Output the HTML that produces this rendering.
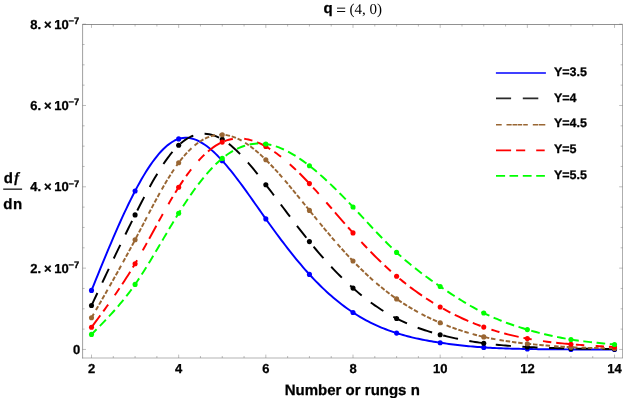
<!DOCTYPE html>
<html><head><meta charset="utf-8"><title>plot</title>
<style>html,body{margin:0;padding:0;background:#fff;overflow:hidden}body{width:623px;height:398px;position:relative;font-family:"Liberation Sans",sans-serif}</style></head>
<body>
<svg width="623" height="398" viewBox="0 0 623 398" text-rendering="geometricPrecision" style="position:absolute;left:0;top:0;will-change:transform">
<rect width="623" height="398" fill="#fff"/>
<g stroke="#6e6e6e" stroke-width="0.8" fill="none">
<path d="M82.6,358.4V24.5" stroke-width="0.66"/><path d="M82.27,24.5H622.6" stroke-width="0.76"/><path d="M82.19999999999999,358.0H622.6" stroke-width="0.52"/><path d="M622.6,24.5V358.26" stroke-width="0.62"/>
<path d="M91.50,358.0v-3.4M91.50,24.5v3.4M113.29,358.0v-2.0M113.29,24.5v2.0M135.09,358.0v-2.0M135.09,24.5v2.0M156.88,358.0v-2.0M156.88,24.5v2.0M178.67,358.0v-3.4M178.67,24.5v3.4M200.46,358.0v-2.0M200.46,24.5v2.0M222.25,358.0v-2.0M222.25,24.5v2.0M244.05,358.0v-2.0M244.05,24.5v2.0M265.84,358.0v-3.4M265.84,24.5v3.4M287.63,358.0v-2.0M287.63,24.5v2.0M309.43,358.0v-2.0M309.43,24.5v2.0M331.22,358.0v-2.0M331.22,24.5v2.0M353.01,358.0v-3.4M353.01,24.5v3.4M374.80,358.0v-2.0M374.80,24.5v2.0M396.60,358.0v-2.0M396.60,24.5v2.0M418.39,358.0v-2.0M418.39,24.5v2.0M440.18,358.0v-3.4M440.18,24.5v3.4M461.97,358.0v-2.0M461.97,24.5v2.0M483.76,358.0v-2.0M483.76,24.5v2.0M505.56,358.0v-2.0M505.56,24.5v2.0M527.35,358.0v-3.4M527.35,24.5v3.4M549.14,358.0v-2.0M549.14,24.5v2.0M570.93,358.0v-2.0M570.93,24.5v2.0M592.73,358.0v-2.0M592.73,24.5v2.0M614.52,358.0v-3.4M614.52,24.5v3.4M82.6,349.45h3.4M622.6,349.45h-3.4M82.6,329.12h2.0M622.6,329.12h-2.0M82.6,308.79h2.0M622.6,308.79h-2.0M82.6,288.46h2.0M622.6,288.46h-2.0M82.6,268.13h3.4M622.6,268.13h-3.4M82.6,247.80h2.0M622.6,247.80h-2.0M82.6,227.47h2.0M622.6,227.47h-2.0M82.6,207.14h2.0M622.6,207.14h-2.0M82.6,186.81h3.4M622.6,186.81h-3.4M82.6,166.48h2.0M622.6,166.48h-2.0M82.6,146.15h2.0M622.6,146.15h-2.0M82.6,125.82h2.0M622.6,125.82h-2.0M82.6,105.49h3.4M622.6,105.49h-3.4M82.6,85.16h2.0M622.6,85.16h-2.0M82.6,64.83h2.0M622.6,64.83h-2.0M82.6,44.50h2.0M622.6,44.50h-2.0M82.6,24.17h3.4M622.6,24.17h-3.4" stroke-width="0.45"/>
</g>
<polyline points="91.50,290.40 93.68,285.03 95.86,279.66 98.04,274.31 100.22,268.97 102.40,263.66 104.58,258.38 106.75,253.13 108.93,247.93 111.11,242.78 113.29,237.68 115.47,232.64 117.65,227.66 119.83,222.76 122.01,217.94 124.19,213.20 126.37,208.56 128.55,204.01 130.73,199.56 132.91,195.22 135.09,191.00 137.26,186.90 139.44,182.92 141.62,179.08 143.80,175.37 145.98,171.80 148.16,168.38 150.34,165.12 152.52,162.01 154.70,159.06 156.88,156.28 159.06,153.68 161.24,151.25 163.42,149.01 165.59,146.96 167.77,145.10 169.95,143.44 172.13,141.98 174.31,140.74 176.49,139.71 178.67,138.90 180.85,138.31 183.03,137.95 185.21,137.79 187.39,137.84 189.57,138.09 191.75,138.52 193.92,139.14 196.10,139.94 198.28,140.91 200.46,142.04 202.64,143.32 204.82,144.75 207.00,146.33 209.18,148.03 211.36,149.87 213.54,151.82 215.72,153.89 217.90,156.06 220.08,158.34 222.25,160.70 224.43,163.15 226.61,165.68 228.79,168.28 230.97,170.96 233.15,173.69 235.33,176.49 237.51,179.34 239.69,182.24 241.87,185.18 244.05,188.16 246.23,191.17 248.41,194.21 250.59,197.27 252.76,200.35 254.94,203.44 257.12,206.54 259.30,209.64 261.48,212.74 263.66,215.83 265.84,218.90 268.02,221.96 270.20,224.99 272.38,228.00 274.56,230.99 276.74,233.96 278.92,236.89 281.09,239.80 283.27,242.68 285.45,245.53 287.63,248.35 289.81,251.13 291.99,253.88 294.17,256.59 296.35,259.26 298.53,261.89 300.71,264.48 302.89,267.03 305.07,269.53 307.25,271.99 309.43,274.40 311.60,276.76 313.78,279.07 315.96,281.34 318.14,283.55 320.32,285.72 322.50,287.84 324.68,289.91 326.86,291.93 329.04,293.91 331.22,295.84 333.40,297.71 335.58,299.55 337.76,301.33 339.93,303.07 342.11,304.76 344.29,306.40 346.47,308.00 348.65,309.54 350.83,311.05 353.01,312.50 355.19,313.91 357.37,315.27 359.55,316.59 361.73,317.86 363.91,319.10 366.09,320.29 368.26,321.43 370.44,322.54 372.62,323.61 374.80,324.65 376.98,325.64 379.16,326.60 381.34,327.53 383.52,328.42 385.70,329.27 387.88,330.10 390.06,330.89 392.24,331.66 394.42,332.39 396.60,333.10 398.77,333.78 400.95,334.43 403.13,335.06 405.31,335.66 407.49,336.24 409.67,336.80 411.85,337.33 414.03,337.85 416.21,338.34 418.39,338.82 420.57,339.27 422.75,339.71 424.93,340.13 427.10,340.54 429.28,340.93 431.46,341.31 433.64,341.67 435.82,342.03 438.00,342.37 440.18,342.70 442.36,343.02 444.54,343.33 446.72,343.64 448.90,343.93 451.08,344.22 453.26,344.49 455.43,344.76 457.61,345.02 459.79,345.26 461.97,345.50 464.15,345.73 466.33,345.95 468.51,346.17 470.69,346.37 472.87,346.56 475.05,346.75 477.23,346.92 479.41,347.09 481.59,347.25 483.76,347.40 485.94,347.54 488.12,347.67 490.30,347.80 492.48,347.92 494.66,348.03 496.84,348.13 499.02,348.22 501.20,348.31 503.38,348.40 505.56,348.47 507.74,348.54 509.92,348.61 512.10,348.67 514.27,348.73 516.45,348.78 518.63,348.83 520.81,348.88 522.99,348.92 525.17,348.96 527.35,349.00 529.53,349.04 531.71,349.07 533.89,349.10 536.07,349.13 538.25,349.16 540.43,349.18 542.60,349.21 544.78,349.23 546.96,349.25 549.14,349.27 551.32,349.29 553.50,349.30 555.68,349.32 557.86,349.33 560.04,349.35 562.22,349.36 564.40,349.37 566.58,349.38 568.76,349.39 570.93,349.40 573.11,349.41 575.29,349.42 577.47,349.42 579.65,349.43 581.83,349.44 584.01,349.44 586.19,349.45 588.37,349.45 590.55,349.46 592.73,349.46 594.91,349.47 597.09,349.47 599.27,349.48 601.44,349.48 603.62,349.48 605.80,349.49 607.98,349.49 610.16,349.49 612.34,349.50 614.52,349.50" fill="none" stroke="#0000ff" stroke-width="1.95" stroke-linejoin="round"/>
<circle cx="91.50" cy="290.40" r="2.55" fill="#0000ff"/>
<circle cx="135.09" cy="191.00" r="2.55" fill="#0000ff"/>
<circle cx="178.67" cy="138.90" r="2.55" fill="#0000ff"/>
<circle cx="222.25" cy="160.70" r="2.55" fill="#0000ff"/>
<circle cx="265.84" cy="218.90" r="2.55" fill="#0000ff"/>
<circle cx="309.43" cy="274.40" r="2.55" fill="#0000ff"/>
<circle cx="353.01" cy="312.50" r="2.55" fill="#0000ff"/>
<circle cx="396.60" cy="333.10" r="2.55" fill="#0000ff"/>
<circle cx="440.18" cy="342.70" r="2.55" fill="#0000ff"/>
<circle cx="483.76" cy="347.40" r="2.55" fill="#0000ff"/>
<circle cx="527.35" cy="349.00" r="2.55" fill="#0000ff"/>
<circle cx="570.93" cy="349.40" r="2.55" fill="#0000ff"/>
<circle cx="614.52" cy="349.50" r="2.55" fill="#0000ff"/>
<polyline points="91.50,305.50 93.68,300.87 95.86,296.25 98.04,291.63 100.22,287.01 102.40,282.40 104.58,277.79 106.75,273.20 108.93,268.61 111.11,264.04 113.29,259.48 115.47,254.93 117.65,250.40 119.83,245.89 122.01,241.39 124.19,236.92 126.37,232.47 128.55,228.04 130.73,223.63 132.91,219.25 135.09,214.90 137.26,210.58 139.44,206.29 141.62,202.06 143.80,197.87 145.98,193.75 148.16,189.70 150.34,185.73 152.52,181.85 154.70,178.06 156.88,174.38 159.06,170.81 161.24,167.37 163.42,164.05 165.59,160.87 167.77,157.84 169.95,154.97 172.13,152.26 174.31,149.72 176.49,147.37 178.67,145.20 180.85,143.23 183.03,141.45 185.21,139.87 187.39,138.48 189.57,137.27 191.75,136.24 193.92,135.39 196.10,134.73 198.28,134.23 200.46,133.91 202.64,133.75 204.82,133.76 207.00,133.93 209.18,134.26 211.36,134.74 213.54,135.38 215.72,136.17 217.90,137.10 220.08,138.18 222.25,139.40 224.43,140.76 226.61,142.25 228.79,143.86 230.97,145.59 233.15,147.44 235.33,149.40 237.51,151.45 239.69,153.61 241.87,155.85 244.05,158.17 246.23,160.58 248.41,163.05 250.59,165.59 252.76,168.19 254.94,170.84 257.12,173.55 259.30,176.29 261.48,179.06 263.66,181.87 265.84,184.70 268.02,187.55 270.20,190.41 272.38,193.28 274.56,196.17 276.74,199.06 278.92,201.95 281.09,204.85 283.27,207.75 285.45,210.65 287.63,213.54 289.81,216.42 291.99,219.29 294.17,222.15 296.35,224.99 298.53,227.82 300.71,230.63 302.89,233.41 305.07,236.17 307.25,238.90 309.43,241.60 311.60,244.27 313.78,246.90 315.96,249.50 318.14,252.07 320.32,254.60 322.50,257.10 324.68,259.56 326.86,261.99 329.04,264.38 331.22,266.73 333.40,269.05 335.58,271.32 337.76,273.56 339.93,275.76 342.11,277.92 344.29,280.04 346.47,282.11 348.65,284.15 350.83,286.15 353.01,288.10 355.19,290.01 357.37,291.88 359.55,293.71 361.73,295.49 363.91,297.23 366.09,298.94 368.26,300.59 370.44,302.21 372.62,303.79 374.80,305.33 376.98,306.82 379.16,308.28 381.34,309.70 383.52,311.07 385.70,312.41 387.88,313.71 390.06,314.96 392.24,316.18 394.42,317.36 396.60,318.50 398.77,319.60 400.95,320.67 403.13,321.69 405.31,322.69 407.49,323.65 409.67,324.57 411.85,325.47 414.03,326.33 416.21,327.16 418.39,327.97 420.57,328.75 422.75,329.50 424.93,330.22 427.10,330.93 429.28,331.61 431.46,332.26 433.64,332.90 435.82,333.52 438.00,334.12 440.18,334.70 442.36,335.27 444.54,335.82 446.72,336.35 448.90,336.87 451.08,337.37 453.26,337.86 455.43,338.33 457.61,338.79 459.79,339.23 461.97,339.66 464.15,340.08 466.33,340.48 468.51,340.86 470.69,341.24 472.87,341.60 475.05,341.94 477.23,342.28 479.41,342.60 481.59,342.90 483.76,343.20 485.94,343.48 488.12,343.75 490.30,344.01 492.48,344.26 494.66,344.50 496.84,344.72 499.02,344.94 501.20,345.15 503.38,345.35 505.56,345.53 507.74,345.71 509.92,345.88 512.10,346.05 514.27,346.20 516.45,346.35 518.63,346.49 520.81,346.63 522.99,346.76 525.17,346.88 527.35,347.00 529.53,347.11 531.71,347.22 533.89,347.32 536.07,347.42 538.25,347.52 540.43,347.61 542.60,347.69 544.78,347.78 546.96,347.85 549.14,347.93 551.32,348.00 553.50,348.07 555.68,348.13 557.86,348.19 560.04,348.25 562.22,348.30 564.40,348.36 566.58,348.41 568.76,348.45 570.93,348.50 573.11,348.54 575.29,348.58 577.47,348.62 579.65,348.66 581.83,348.70 584.01,348.73 586.19,348.76 588.37,348.79 590.55,348.82 592.73,348.85 594.91,348.88 597.09,348.91 599.27,348.93 601.44,348.96 603.62,348.98 605.80,349.01 607.98,349.03 610.16,349.05 612.34,349.08 614.52,349.10" fill="none" stroke="#000000" stroke-width="1.95" stroke-dasharray="15.2 11.5" stroke-dashoffset="1.4" stroke-linejoin="round"/>
<circle cx="91.50" cy="305.50" r="2.55" fill="#000000"/>
<circle cx="135.09" cy="214.90" r="2.55" fill="#000000"/>
<circle cx="178.67" cy="145.20" r="2.55" fill="#000000"/>
<circle cx="222.25" cy="139.40" r="2.55" fill="#000000"/>
<circle cx="265.84" cy="184.70" r="2.55" fill="#000000"/>
<circle cx="309.43" cy="241.60" r="2.55" fill="#000000"/>
<circle cx="353.01" cy="288.10" r="2.55" fill="#000000"/>
<circle cx="396.60" cy="318.50" r="2.55" fill="#000000"/>
<circle cx="440.18" cy="334.70" r="2.55" fill="#000000"/>
<circle cx="483.76" cy="343.20" r="2.55" fill="#000000"/>
<circle cx="527.35" cy="347.00" r="2.55" fill="#000000"/>
<circle cx="570.93" cy="348.50" r="2.55" fill="#000000"/>
<circle cx="614.52" cy="349.10" r="2.55" fill="#000000"/>
<polyline points="91.50,317.80 93.68,314.02 95.86,310.23 98.04,306.44 100.22,302.65 102.40,298.85 104.58,295.04 106.75,291.22 108.93,287.39 111.11,283.54 113.29,279.68 115.47,275.80 117.65,271.90 119.83,267.98 122.01,264.04 124.19,260.07 126.37,256.08 128.55,252.05 130.73,248.00 132.91,243.92 135.09,239.80 137.26,235.65 139.44,231.47 141.62,227.28 143.80,223.08 145.98,218.89 148.16,214.70 150.34,210.54 152.52,206.41 154.70,202.32 156.88,198.28 159.06,194.31 161.24,190.40 163.42,186.57 165.59,182.83 167.77,179.19 169.95,175.66 172.13,172.24 174.31,168.96 176.49,165.80 178.67,162.80 180.85,159.95 183.03,157.25 185.21,154.71 187.39,152.33 189.57,150.10 191.75,148.02 193.92,146.09 196.10,144.31 198.28,142.69 200.46,141.22 202.64,139.90 204.82,138.73 207.00,137.71 209.18,136.83 211.36,136.11 213.54,135.53 215.72,135.11 217.90,134.82 220.08,134.69 222.25,134.70 224.43,134.86 226.61,135.15 228.79,135.59 230.97,136.15 233.15,136.85 235.33,137.66 237.51,138.60 239.69,139.66 241.87,140.82 244.05,142.10 246.23,143.47 248.41,144.95 250.59,146.52 252.76,148.18 254.94,149.92 257.12,151.75 259.30,153.66 261.48,155.64 263.66,157.69 265.84,159.80 268.02,161.97 270.20,164.21 272.38,166.49 274.56,168.83 276.74,171.21 278.92,173.64 281.09,176.11 283.27,178.62 285.45,181.16 287.63,183.73 289.81,186.33 291.99,188.95 294.17,191.60 296.35,194.26 298.53,196.93 300.71,199.62 302.89,202.31 305.07,205.01 307.25,207.71 309.43,210.40 311.60,213.09 313.78,215.77 315.96,218.44 318.14,221.11 320.32,223.75 322.50,226.39 324.68,229.01 326.86,231.62 329.04,234.20 331.22,236.77 333.40,239.31 335.58,241.83 337.76,244.33 339.93,246.80 342.11,249.25 344.29,251.66 346.47,254.05 348.65,256.40 350.83,258.72 353.01,261.00 355.19,263.25 357.37,265.46 359.55,267.63 361.73,269.77 363.91,271.87 366.09,273.93 368.26,275.96 370.44,277.95 372.62,279.90 374.80,281.81 376.98,283.69 379.16,285.53 381.34,287.33 383.52,289.10 385.70,290.82 387.88,292.51 390.06,294.17 392.24,295.78 394.42,297.36 396.60,298.90 398.77,300.40 400.95,301.87 403.13,303.30 405.31,304.69 407.49,306.05 409.67,307.37 411.85,308.66 414.03,309.92 416.21,311.15 418.39,312.35 420.57,313.52 422.75,314.65 424.93,315.76 427.10,316.85 429.28,317.90 431.46,318.93 433.64,319.93 435.82,320.91 438.00,321.87 440.18,322.80 442.36,323.71 444.54,324.60 446.72,325.46 448.90,326.31 451.08,327.13 453.26,327.93 455.43,328.71 457.61,329.47 459.79,330.20 461.97,330.92 464.15,331.61 466.33,332.28 468.51,332.93 470.69,333.56 472.87,334.17 475.05,334.76 477.23,335.32 479.41,335.87 481.59,336.40 483.76,336.90 485.94,337.38 488.12,337.85 490.30,338.30 492.48,338.72 494.66,339.13 496.84,339.53 499.02,339.90 501.20,340.27 503.38,340.61 505.56,340.95 507.74,341.27 509.92,341.58 512.10,341.88 514.27,342.16 516.45,342.44 518.63,342.71 520.81,342.97 522.99,343.22 525.17,343.46 527.35,343.70 529.53,343.93 531.71,344.16 533.89,344.38 536.07,344.60 538.25,344.81 540.43,345.01 542.60,345.21 544.78,345.40 546.96,345.59 549.14,345.77 551.32,345.94 553.50,346.11 555.68,346.27 557.86,346.42 560.04,346.57 562.22,346.71 564.40,346.84 566.58,346.97 568.76,347.09 570.93,347.20 573.11,347.30 575.29,347.40 577.47,347.49 579.65,347.58 581.83,347.66 584.01,347.73 586.19,347.80 588.37,347.87 590.55,347.93 592.73,347.98 594.91,348.03 597.09,348.08 599.27,348.13 601.44,348.17 603.62,348.21 605.80,348.25 607.98,348.29 610.16,348.33 612.34,348.36 614.52,348.40" fill="none" stroke="#996633" stroke-width="1.95" stroke-dasharray="4.5 1.8 4.5 1.8 4.5 1.8 4.5 4.1" stroke-dashoffset="18.6" stroke-linejoin="round"/>
<circle cx="91.50" cy="317.80" r="2.55" fill="#996633"/>
<circle cx="135.09" cy="239.80" r="2.55" fill="#996633"/>
<circle cx="178.67" cy="162.80" r="2.55" fill="#996633"/>
<circle cx="222.25" cy="134.70" r="2.55" fill="#996633"/>
<circle cx="265.84" cy="159.80" r="2.55" fill="#996633"/>
<circle cx="309.43" cy="210.40" r="2.55" fill="#996633"/>
<circle cx="353.01" cy="261.00" r="2.55" fill="#996633"/>
<circle cx="396.60" cy="298.90" r="2.55" fill="#996633"/>
<circle cx="440.18" cy="322.80" r="2.55" fill="#996633"/>
<circle cx="483.76" cy="336.90" r="2.55" fill="#996633"/>
<circle cx="527.35" cy="343.70" r="2.55" fill="#996633"/>
<circle cx="570.93" cy="347.20" r="2.55" fill="#996633"/>
<circle cx="614.52" cy="348.40" r="2.55" fill="#996633"/>
<polyline points="91.50,327.30 93.68,324.36 95.86,321.43 98.04,318.48 100.22,315.52 102.40,312.55 104.58,309.56 106.75,306.55 108.93,303.51 111.11,300.44 113.29,297.34 115.47,294.20 117.65,291.03 119.83,287.80 122.01,284.53 124.19,281.21 126.37,277.83 128.55,274.40 130.73,270.90 132.91,267.33 135.09,263.70 137.26,259.99 139.44,256.22 141.62,252.40 143.80,248.52 145.98,244.61 148.16,240.66 150.34,236.70 152.52,232.72 154.70,228.74 156.88,224.76 159.06,220.80 161.24,216.86 163.42,212.95 165.59,209.09 167.77,205.27 169.95,201.50 172.13,197.81 174.31,194.18 176.49,190.65 178.67,187.20 180.85,183.85 183.03,180.61 185.21,177.47 187.39,174.44 189.57,171.52 191.75,168.71 193.92,166.01 196.10,163.43 198.28,160.96 200.46,158.61 202.64,156.39 204.82,154.28 207.00,152.30 209.18,150.45 211.36,148.72 213.54,147.13 215.72,145.67 217.90,144.34 220.08,143.15 222.25,142.10 224.43,141.19 226.61,140.41 228.79,139.77 230.97,139.26 233.15,138.88 235.33,138.63 237.51,138.49 239.69,138.48 241.87,138.58 244.05,138.80 246.23,139.12 248.41,139.55 250.59,140.09 252.76,140.73 254.94,141.46 257.12,142.29 259.30,143.21 261.48,144.22 263.66,145.32 265.84,146.50 268.02,147.76 270.20,149.10 272.38,150.51 274.56,151.99 276.74,153.54 278.92,155.16 281.09,156.85 283.27,158.60 285.45,160.41 287.63,162.28 289.81,164.20 291.99,166.18 294.17,168.20 296.35,170.28 298.53,172.40 300.71,174.56 302.89,176.77 305.07,179.01 307.25,181.29 309.43,183.60 311.60,185.94 313.78,188.32 315.96,190.71 318.14,193.14 320.32,195.58 322.50,198.04 324.68,200.52 326.86,203.00 329.04,205.50 331.22,208.01 333.40,210.52 335.58,213.03 337.76,215.55 339.93,218.05 342.11,220.56 344.29,223.05 346.47,225.54 348.65,228.01 350.83,230.46 353.01,232.90 355.19,235.31 357.37,237.71 359.55,240.08 361.73,242.42 363.91,244.74 366.09,247.04 368.26,249.31 370.44,251.56 372.62,253.77 374.80,255.96 376.98,258.13 379.16,260.26 381.34,262.36 383.52,264.44 385.70,266.48 387.88,268.49 390.06,270.47 392.24,272.41 394.42,274.32 396.60,276.20 398.77,278.04 400.95,279.85 403.13,281.62 405.31,283.36 407.49,285.07 409.67,286.74 411.85,288.39 414.03,290.00 416.21,291.57 418.39,293.12 420.57,294.64 422.75,296.13 424.93,297.58 427.10,299.01 429.28,300.41 431.46,301.78 433.64,303.13 435.82,304.45 438.00,305.74 440.18,307.00 442.36,308.24 444.54,309.45 446.72,310.64 448.90,311.80 451.08,312.94 453.26,314.05 455.43,315.13 457.61,316.20 459.79,317.23 461.97,318.25 464.15,319.24 466.33,320.20 468.51,321.15 470.69,322.07 472.87,322.96 475.05,323.83 477.23,324.68 479.41,325.51 481.59,326.32 483.76,327.10 485.94,327.86 488.12,328.60 490.30,329.32 492.48,330.01 494.66,330.69 496.84,331.35 499.02,331.98 501.20,332.60 503.38,333.20 505.56,333.77 507.74,334.33 509.92,334.88 512.10,335.40 514.27,335.91 516.45,336.40 518.63,336.87 520.81,337.33 522.99,337.77 525.17,338.19 527.35,338.60 529.53,338.99 531.71,339.37 533.89,339.74 536.07,340.09 538.25,340.43 540.43,340.76 542.60,341.07 544.78,341.37 546.96,341.66 549.14,341.94 551.32,342.21 553.50,342.47 555.68,342.71 557.86,342.95 560.04,343.18 562.22,343.40 564.40,343.61 566.58,343.82 568.76,344.01 570.93,344.20 573.11,344.38 575.29,344.56 577.47,344.73 579.65,344.89 581.83,345.05 584.01,345.20 586.19,345.35 588.37,345.49 590.55,345.63 592.73,345.77 594.91,345.90 597.09,346.03 599.27,346.16 601.44,346.28 603.62,346.41 605.80,346.53 607.98,346.65 610.16,346.76 612.34,346.88 614.52,347.00" fill="none" stroke="#ff0000" stroke-width="1.95" stroke-dasharray="14.9 4.9 8.4 11.4 8.4 4.9" stroke-dashoffset="0" stroke-linejoin="round"/>
<circle cx="91.50" cy="327.30" r="2.55" fill="#ff0000"/>
<circle cx="135.09" cy="263.70" r="2.55" fill="#ff0000"/>
<circle cx="178.67" cy="187.20" r="2.55" fill="#ff0000"/>
<circle cx="222.25" cy="142.10" r="2.55" fill="#ff0000"/>
<circle cx="265.84" cy="146.50" r="2.55" fill="#ff0000"/>
<circle cx="309.43" cy="183.60" r="2.55" fill="#ff0000"/>
<circle cx="353.01" cy="232.90" r="2.55" fill="#ff0000"/>
<circle cx="396.60" cy="276.20" r="2.55" fill="#ff0000"/>
<circle cx="440.18" cy="307.00" r="2.55" fill="#ff0000"/>
<circle cx="483.76" cy="327.10" r="2.55" fill="#ff0000"/>
<circle cx="527.35" cy="338.60" r="2.55" fill="#ff0000"/>
<circle cx="570.93" cy="344.20" r="2.55" fill="#ff0000"/>
<circle cx="614.52" cy="347.00" r="2.55" fill="#ff0000"/>
<polyline points="91.50,334.40 93.68,332.21 95.86,330.02 98.04,327.82 100.22,325.60 102.40,323.36 104.58,321.10 106.75,318.82 108.93,316.50 111.11,314.14 113.29,311.74 115.47,309.30 117.65,306.80 119.83,304.24 122.01,301.63 124.19,298.95 126.37,296.20 128.55,293.37 130.73,290.47 132.91,287.48 135.09,284.40 137.26,281.23 139.44,277.97 141.62,274.64 143.80,271.23 145.98,267.76 148.16,264.24 150.34,260.66 152.52,257.05 154.70,253.40 156.88,249.73 159.06,246.03 161.24,242.33 163.42,238.62 165.59,234.92 167.77,231.23 169.95,227.55 172.13,223.91 174.31,220.29 176.49,216.72 178.67,213.20 180.85,209.73 183.03,206.33 185.21,202.98 187.39,199.70 189.57,196.49 191.75,193.35 193.92,190.28 196.10,187.29 198.28,184.38 200.46,181.55 202.64,178.81 204.82,176.15 207.00,173.59 209.18,171.11 211.36,168.74 213.54,166.46 215.72,164.29 217.90,162.21 220.08,160.25 222.25,158.40 224.43,156.66 226.61,155.03 228.79,153.52 230.97,152.11 233.15,150.82 235.33,149.63 237.51,148.55 239.69,147.58 241.87,146.72 244.05,145.96 246.23,145.31 248.41,144.76 250.59,144.31 252.76,143.97 254.94,143.72 257.12,143.58 259.30,143.54 261.48,143.60 263.66,143.75 265.84,144.00 268.02,144.35 270.20,144.79 272.38,145.32 274.56,145.94 276.74,146.64 278.92,147.43 281.09,148.30 283.27,149.25 285.45,150.28 287.63,151.37 289.81,152.54 291.99,153.78 294.17,155.08 296.35,156.44 298.53,157.87 300.71,159.35 302.89,160.88 305.07,162.47 307.25,164.11 309.43,165.80 311.60,167.53 313.78,169.31 315.96,171.12 318.14,172.98 320.32,174.88 322.50,176.81 324.68,178.78 326.86,180.79 329.04,182.82 331.22,184.89 333.40,186.99 335.58,189.12 337.76,191.27 339.93,193.46 342.11,195.66 344.29,197.89 346.47,200.14 348.65,202.41 350.83,204.70 353.01,207.00 355.19,209.32 357.37,211.65 359.55,213.99 361.73,216.34 363.91,218.70 366.09,221.05 368.26,223.40 370.44,225.74 372.62,228.08 374.80,230.41 376.98,232.72 379.16,235.01 381.34,237.29 383.52,239.54 385.70,241.77 387.88,243.96 390.06,246.13 392.24,248.26 394.42,250.35 396.60,252.40 398.77,254.41 400.95,256.37 403.13,258.30 405.31,260.19 407.49,262.04 409.67,263.85 411.85,265.63 414.03,267.38 416.21,269.10 418.39,270.79 420.57,272.45 422.75,274.09 424.93,275.71 427.10,277.30 429.28,278.87 431.46,280.43 433.64,281.97 435.82,283.49 438.00,285.00 440.18,286.50 442.36,287.99 444.54,289.47 446.72,290.93 448.90,292.39 451.08,293.83 453.26,295.25 455.43,296.66 457.61,298.05 459.79,299.42 461.97,300.78 464.15,302.11 466.33,303.42 468.51,304.71 470.69,305.97 472.87,307.21 475.05,308.43 477.23,309.61 479.41,310.77 481.59,311.90 483.76,313.00 485.94,314.07 488.12,315.11 490.30,316.11 492.48,317.09 494.66,318.05 496.84,318.97 499.02,319.87 501.20,320.75 503.38,321.59 505.56,322.42 507.74,323.23 509.92,324.01 512.10,324.77 514.27,325.51 516.45,326.24 518.63,326.94 520.81,327.63 522.99,328.30 525.17,328.96 527.35,329.60 529.53,330.23 531.71,330.84 533.89,331.44 536.07,332.03 538.25,332.61 540.43,333.17 542.60,333.71 544.78,334.24 546.96,334.76 549.14,335.26 551.32,335.75 553.50,336.23 555.68,336.69 557.86,337.13 560.04,337.56 562.22,337.98 564.40,338.38 566.58,338.77 568.76,339.14 570.93,339.50 573.11,339.84 575.29,340.17 577.47,340.49 579.65,340.79 581.83,341.08 584.01,341.36 586.19,341.63 588.37,341.88 590.55,342.13 592.73,342.37 594.91,342.61 597.09,342.84 599.27,343.06 601.44,343.27 603.62,343.48 605.80,343.69 607.98,343.90 610.16,344.10 612.34,344.30 614.52,344.50" fill="none" stroke="#00ff00" stroke-width="1.95" stroke-dasharray="8.7 4.6" stroke-dashoffset="1.5" stroke-linejoin="round"/>
<circle cx="91.50" cy="334.40" r="2.55" fill="#00ff00"/>
<circle cx="135.09" cy="284.40" r="2.55" fill="#00ff00"/>
<circle cx="178.67" cy="213.20" r="2.55" fill="#00ff00"/>
<circle cx="222.25" cy="158.40" r="2.55" fill="#00ff00"/>
<circle cx="265.84" cy="144.00" r="2.55" fill="#00ff00"/>
<circle cx="309.43" cy="165.80" r="2.55" fill="#00ff00"/>
<circle cx="353.01" cy="207.00" r="2.55" fill="#00ff00"/>
<circle cx="396.60" cy="252.40" r="2.55" fill="#00ff00"/>
<circle cx="440.18" cy="286.50" r="2.55" fill="#00ff00"/>
<circle cx="483.76" cy="313.00" r="2.55" fill="#00ff00"/>
<circle cx="527.35" cy="329.60" r="2.55" fill="#00ff00"/>
<circle cx="570.93" cy="339.50" r="2.55" fill="#00ff00"/>
<circle cx="614.52" cy="344.50" r="2.55" fill="#00ff00"/>
<path d="M495.9,72.95H545.9" stroke="#0000ff" stroke-width="1.6" fill="none"/>
<path d="M496,98.4H511.1M522.8,98.4H538.3" stroke="#2a2a2a" stroke-width="1.6" fill="none"/>
<path d="M496,124.7H501.7M506.5,124.7H511.7M512.5,124.7H517.2M517.7,124.7H522.2M523.2,124.7H527.8M532.8,124.7H538.2M538.8,124.7H545.3" stroke="#996633" stroke-width="1.6" fill="none"/>
<path d="M496,150.4H511.1M516.1,150.4H525.2M536.2,150.4H544.7" stroke="#ff0000" stroke-width="1.6" fill="none"/>
<path d="M496,175.9H505.1M509.5,175.9H518.1M522.8,175.9H531.6M536.2,175.9H544.9" stroke="#00ff00" stroke-width="1.6" fill="none"/>
<g font-family="Liberation Sans, sans-serif" font-weight="bold" fill="#000" stroke="#000" stroke-width="0.28" stroke-linejoin="round">
<text x="553.9" y="76.0" font-size="12.5">Y=3.5</text>
<text x="553.9" y="101.7" font-size="12.5">Y=4</text>
<text x="553.9" y="127.4" font-size="12.5">Y=4.5</text>
<text x="553.9" y="153.1" font-size="12.5">Y=5</text>
<text x="553.9" y="178.8" font-size="12.5">Y=5.5</text>
<text x="91.5" y="372.6" font-size="13" text-anchor="middle">2</text>
<text x="178.7" y="372.6" font-size="13" text-anchor="middle">4</text>
<text x="265.8" y="372.6" font-size="13" text-anchor="middle">6</text>
<text x="353.0" y="372.6" font-size="13" text-anchor="middle">8</text>
<text x="440.2" y="372.6" font-size="13" text-anchor="middle">10</text>
<text x="527.4" y="372.6" font-size="13" text-anchor="middle">12</text>
<text x="614.5" y="372.6" font-size="13" text-anchor="middle">14</text>
<text x="80.2" y="353.9" font-size="13" text-anchor="end">0</text>
<text x="30.3" y="272.5" font-size="13" word-spacing="-0.8">2. × 10<tspan font-size="9.4" dy="-4.6" dx="-0.4">−7</tspan></text>
<text x="30.3" y="191.2" font-size="13" word-spacing="-0.8">4. × 10<tspan font-size="9.4" dy="-4.6" dx="-0.4">−7</tspan></text>
<text x="30.3" y="109.9" font-size="13" word-spacing="-0.8">6. × 10<tspan font-size="9.4" dy="-4.6" dx="-0.4">−7</tspan></text>
<text x="30.3" y="28.6" font-size="13" word-spacing="-0.8">8. × 10<tspan font-size="9.4" dy="-4.6" dx="-0.4">−7</tspan></text>
<text x="352.3" y="394.9" font-size="15" text-anchor="middle">Number or rungs n</text>
<text x="3.7" y="182.8" font-size="15">d</text><text x="14.3" y="181.9" font-size="14.2" font-family="Liberation Serif, serif" font-style="italic" stroke-width="0.25">f</text>
<text x="3.3" y="209.0" font-size="15" letter-spacing="0.5">dn</text>
<rect x="3.2" y="188.55" width="18.9" height="1.2" fill="#000" stroke="none"/>
<text x="323.6" y="13.3" font-size="15">q</text>
</g>
<g font-family="Liberation Serif, serif" fill="#000" font-size="12">
<path d="M337,8.15H345.2M337,11.5H345.2" stroke="#000" stroke-width="0.95" fill="none"/>
<text x="349.4" y="13.6" font-size="15">(4, 0)</text>
</g>
</svg>
</body></html>
